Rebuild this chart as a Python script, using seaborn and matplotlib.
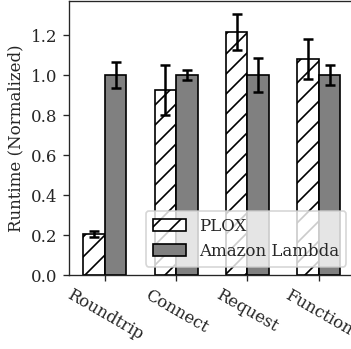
import numpy as np
import pandas as pd
import matplotlib
matplotlib.use("Agg")
import matplotlib.pyplot as plt
import seaborn as sns

# 데이터
categories = ["Roundtrip", "Connect", "Request", "Function"]
systems = ["PLOX", "Amazon Lambda"]
plox_mean = [0.205, 0.925, 1.215, 1.08]
plox_err = [0.015, 0.125, 0.09, 0.10]
lambda_mean = [1.0, 1.0, 1.0, 1.0]
lambda_err = [0.067, 0.023, 0.085, 0.048]

df = pd.DataFrame({
    "op": categories * 2,
    "system": [systems[0]] * 4 + [systems[1]] * 4,
    "runtime": plox_mean + lambda_mean,
})
errs = [plox_err, lambda_err]

sns.set_style("ticks")
plt.rcParams['font.family'] = ['DejaVu Serif']
plt.rcParams['font.size'] = 10

fig = plt.figure(figsize=(351 / 120, 349 / 120), dpi=120)
ax = fig.add_axes([0.197, 0.212, 0.813, 0.785])

sns.barplot(data=df, x="op", y="runtime", hue="system", order=categories,
            hue_order=systems, palette=["white", "#808080"], width=0.6,
            edgecolor="black", linewidth=1, errorbar=None, ax=ax)

bars = list(ax.containers)

# 해치 + 에러바
for i, cont in enumerate(bars):
    xs = [p.get_x() + p.get_width() / 2 for p in cont.patches]
    hs = [p.get_height() for p in cont.patches]
    for p in cont.patches:
        if i == 0:
            p.set_hatch("//")
    ax.errorbar(xs, hs, yerr=errs[i], fmt="none", ecolor="black",
                elinewidth=1.5, capsize=3, capthick=1.5, zorder=5)

ax.get_legend().remove()
ax.legend(bars, systems, loc="lower right", fontsize=10)

ax.set_ylim(0, 1.37)
ax.set_xlim(-0.5, 3.5)
ax.set_yticks([0.0, 0.2, 0.4, 0.6, 0.8, 1.0, 1.2])
ax.set_xlabel("")
ax.set_ylabel("Runtime (Normalized)")
plt.xticks(rotation=-30)

fig.savefig("out.png", dpi=120)
